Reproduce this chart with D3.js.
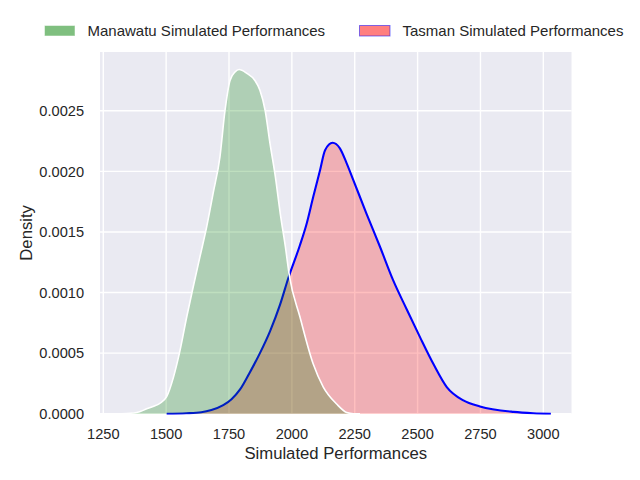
<!DOCTYPE html>
<html>
<head>
<meta charset="utf-8">
<script src="https://cdn.jsdelivr.net/npm/d3@7"></script>
<style>
  body { margin: 0; background: #fff; }
  svg { font-family: "Liberation Sans", Arial, sans-serif; }
  .tick-label { fill: #262626; font-size: 14.6px; }
  .axis-label { fill: #262626; font-size: 16.7px; }
  .legend-label { fill: #262626; font-size: 15px; }
</style>
</head>
<body>
<div id="chart"></div>
<script>

// density curves (x = simulated performance, y = density)
const manawatuX = [1322, 1383, 1423, 1448, 1475, 1502, 1529, 1555, 1582, 1608, 1635, 1661, 1687,
  1714, 1734, 1754, 1774, 1790, 1820, 1853, 1873, 1894, 1913, 1934, 1954, 1974, 1990,
  2032, 2085, 2125, 2178, 2218, 2245, 2271];
const manawatuY = [0, 0.00001, 0.00004, 0.00006, 0.000086, 0.00014, 0.0003, 0.00052, 0.0008, 0.00105, 0.0013, 0.00154, 0.00182,
  0.00212, 0.0025, 0.00275, 0.00282, 0.00284, 0.00281, 0.00275, 0.00267, 0.0025, 0.00223, 0.00196, 0.00165, 0.00138, 0.00114,
  0.0008, 0.00041, 0.00022, 0.00008, 0.00001, 0, 0];

const tasmanX = [1502, 1580, 1640, 1680, 1727, 1760, 1794, 1830, 1873, 1913, 1953, 1986, 2032,
  2059, 2085, 2112, 2132, 2162, 2191, 2218, 2244, 2297, 2350, 2403, 2457, 2510,
  2563, 2616, 2682, 2748, 2881, 2960, 3030];
const tasmanY = [0, 0.000004, 0.000012, 0.00003, 0.00007, 0.00012, 0.0002, 0.00033, 0.0005, 0.00068, 0.0009, 0.00112, 0.00139,
  0.00157, 0.00179, 0.00201, 0.002175, 0.002236, 0.00219, 0.002066, 0.00193, 0.00165, 0.00138, 0.0011, 0.00086, 0.00063,
  0.00041, 0.00022, 0.00011, 0.00006, 0.000015, 0.000004, 0];

const xTicks = [1250, 1500, 1750, 2000, 2250, 2500, 2750, 3000];
const yTicks = [0, 0.0005, 0.001, 0.0015, 0.002, 0.0025];

const seriesNames = ['Manawatu Simulated Performances', 'Tasman Simulated Performances'];

const width = 640;
const height = 480;

const plot = { left: 100, right: 571.5, top: 52, bottom: 413.7 };

function translate(x, y) {
  return "translate(" + x + "," + y + ")";
}

const svg = d3.select('#chart')
  .append('svg')
    .attr('width', width)
    .attr('height', height)

const xScale = d3.scaleLinear()
  .domain([1237, 3112])
  .range([plot.left, plot.right])

const yScale = d3.scaleLinear()
  .domain([0, 0.002985])
  .range([plot.bottom, plot.top])

// background
svg.append('rect')
    .attr('x', plot.left)
    .attr('y', plot.top)
    .attr('width', plot.right - plot.left)
    .attr('height', plot.bottom - plot.top)
    .attr('fill', '#eaeaf2')

// grid
svg.append('g')
  .selectAll('line')
    .data(xTicks)
  .enter()
  .append('line')
    .attr('x1', d => xScale(d))
    .attr('x2', d => xScale(d))
    .attr('y1', plot.top)
    .attr('y2', plot.bottom)
    .attr('stroke', '#fff')
    .attr('stroke-width', 1.4)

svg.append('g')
  .selectAll('line')
    .data(yTicks)
  .enter()
  .append('line')
    .attr('x1', plot.left)
    .attr('x2', plot.right)
    .attr('y1', d => yScale(d))
    .attr('y2', d => yScale(d))
    .attr('stroke', '#fff')
    .attr('stroke-width', 1.4)

svg.append('clipPath')
    .attr('id', 'plot-clip')
  .append('rect')
    .attr('x', plot.left)
    .attr('y', plot.top - 5)
    .attr('width', plot.right - plot.left)
    .attr('height', plot.bottom - plot.top + 6)

const area = d3.area()
  .x(d => xScale(d[0]))
  .y0(yScale(0))
  .y1(d => yScale(d[1]))
  .curve(d3.curveMonotoneX)

const line = d3.line()
  .x(d => xScale(d[0]))
  .y(d => yScale(d[1]))
  .curve(d3.curveMonotoneX)

const manawatu = d3.zip(manawatuX, manawatuY);
const tasman = d3.zip(tasmanX, tasmanY);

const g = svg.append('g')
    .attr('clip-path', 'url(#plot-clip)')

// Tasman underneath
g.append('path')
    .datum(tasman)
    .attr('d', area)
    .attr('fill', 'rgba(255,0,0,0.25)')

g.append('path')
    .datum(tasman)
    .attr('d', line)
    .attr('fill', 'none')
    .attr('stroke', '#0000ff')
    .attr('stroke-width', 2.1)

// Manawatu on top
g.append('path')
    .datum(manawatu)
    .attr('d', area)
    .attr('fill', 'rgba(0,128,0,0.25)')

g.append('path')
    .datum(manawatu)
    .attr('d', line)
    .attr('fill', 'none')
    .attr('stroke', '#fff')
    .attr('stroke-width', 1.6)

// x tick labels
svg.append('g')
  .selectAll('text')
    .data(xTicks)
  .enter()
  .append('text')
    .attr('class', 'tick-label')
    .attr('x', d => xScale(d))
    .attr('y', 438.5)
    .attr('text-anchor', 'middle')
    .text(d => d)

// y tick labels
svg.append('g')
  .selectAll('text')
    .data(yTicks)
  .enter()
  .append('text')
    .attr('class', 'tick-label')
    .attr('x', 84)
    .attr('y', d => yScale(d) + 5.3)
    .attr('text-anchor', 'end')
    .text(d => d3.format('.4f')(d))

// axis labels
svg.append('text')
    .attr('class', 'axis-label')
    .attr('x', (plot.left + plot.right) / 2)
    .attr('y', 459)
    .attr('text-anchor', 'middle')
    .text('Simulated Performances')

svg.append('text')
    .attr('class', 'axis-label')
    .attr('transform', translate(31.5, (plot.top + plot.bottom) / 2) + ' rotate(-90)')
    .attr('text-anchor', 'middle')
    .text('Density')

// legend
const legendFill = ['rgba(0,128,0,0.5)', 'rgba(255,0,0,0.5)'];
const legendEdge = ['rgba(255,255,255,0.5)', 'rgba(0,0,255,0.5)'];
const legendX = [44.5, 359.5];

const item = svg.append('g')
  .selectAll('g')
    .data(seriesNames)
  .enter()
  .append('g')
    .attr('transform', (d, i) => translate(legendX[i], 0))

item.append('rect')
    .attr('y', 25.5)
    .attr('width', 30.5)
    .attr('height', 10.5)
    .attr('fill', (d, i) => legendFill[i])
    .attr('stroke', (d, i) => legendEdge[i])
    .attr('stroke-width', 1)

item.append('text')
    .attr('class', 'legend-label')
    .attr('x', 43)
    .attr('y', 35.5)
    .text(d => d)

</script>
</body>
</html>
